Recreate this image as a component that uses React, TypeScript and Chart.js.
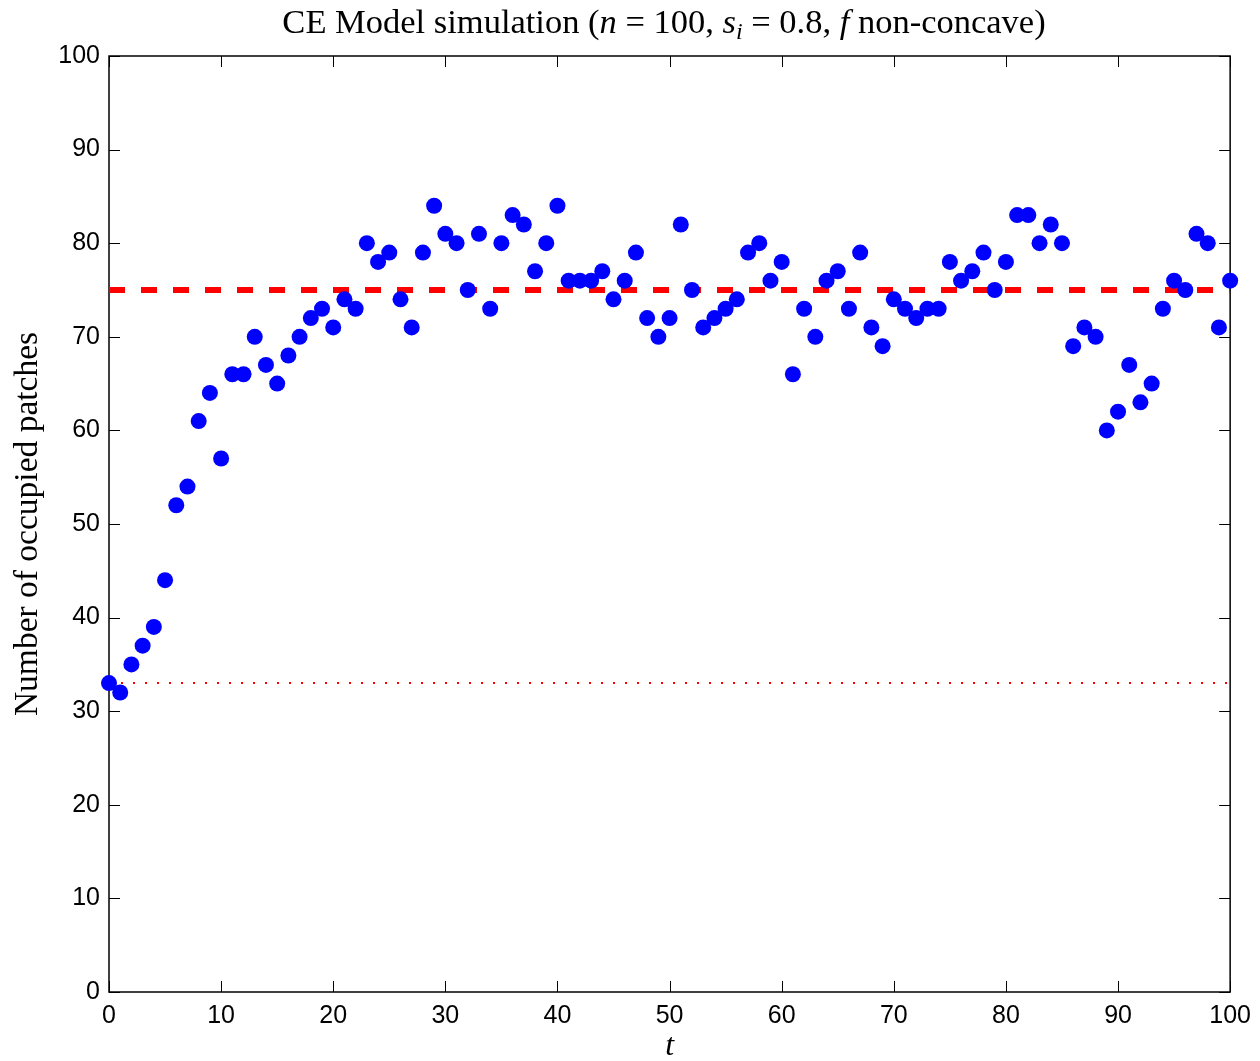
import React, { useEffect, useRef } from 'react';
import { Chart, registerables } from 'chart.js';

Chart.register(...registerables);

// Number of occupied patches at each time step t = 0 .. 100
const occupiedPatches: number[] = [
  33, 32, 35, 37, 39, 44, 52, 54, 61, 64,
  57, 66, 66, 70, 67, 65, 68, 70, 72, 73,
  71, 74, 73, 80, 78, 79, 74, 71, 79, 84,
  81, 80, 75, 81, 73, 80, 83, 82, 77, 80,
  84, 76, 76, 76, 77, 74, 76, 79, 72, 70,
  72, 82, 75, 71, 72, 73, 74, 79, 80, 76,
  78, 66, 73, 70, 76, 77, 73, 79, 71, 69,
  74, 73, 72, 73, 73, 78, 76, 77, 79, 75,
  78, 83, 83, 80, 82, 80, 69, 71, 70, 60,
  62, 67, 63, 65, 73, 76, 75, 81, 80, 71,
  76,
];
const timeSteps: number[] = occupiedPatches.map((_, i) => i);

const equilibriumLevel = 75;
const initialLevel = 33;
const lineSpan: number[] = [0, 100];

const xTicks: number[] = [0, 10, 20, 30, 40, 50, 60, 70, 80, 90, 100];
const yTicks: number[] = [0, 10, 20, 30, 40, 50, 60, 70, 80, 90, 100];

const titleSegments: { text: string; italic?: boolean; sub?: boolean }[] = [
  { text: 'CE Model simulation (' },
  { text: 'n', italic: true },
  { text: ' = 100, ' },
  { text: 's', italic: true },
  { text: 'i', italic: true, sub: true },
  { text: ' = 0.8, ' },
  { text: 'f', italic: true },
  { text: ' non-concave)' },
];

const SERIF = '"Liberation Serif", "DejaVu Serif", serif';
const SANS = '"Liberation Sans", Arial, sans-serif';

const boxPlugin = {
  id: 'matlabBox',
  beforeDatasetsDraw(chart: any) {
    const { ctx, chartArea } = chart;
    const { left, right, top, bottom } = chartArea;
    const xs = chart.scales.x;
    const ys = chart.scales.y;
    const tl = 11;
    ctx.save();
    ctx.strokeStyle = '#000';
    ctx.lineWidth = 1;
    ctx.beginPath();
    xTicks.forEach((v) => {
      const px = Math.round(xs.getPixelForValue(v)) + 0.5;
      ctx.moveTo(px, bottom);
      ctx.lineTo(px, bottom - tl);
      ctx.moveTo(px, top);
      ctx.lineTo(px, top + tl);
    });
    yTicks.forEach((v) => {
      const py = Math.round(ys.getPixelForValue(v)) + 0.5;
      ctx.moveTo(left, py);
      ctx.lineTo(left + tl, py);
      ctx.moveTo(right, py);
      ctx.lineTo(right - tl, py);
    });
    ctx.stroke();
    ctx.lineWidth = 1.5;
    ctx.strokeRect(left, top, right - left, bottom - top);
    ctx.restore();
  },
};

const titlePlugin = {
  id: 'mathTitle',
  afterDraw(chart: any) {
    const { ctx } = chart;
    const size = 34.5;
    const subSize = 24;
    const fontFor = (s: { italic?: boolean; sub?: boolean }) =>
      `${s.italic ? 'italic ' : ''}${s.sub ? subSize : size}px ${SERIF}`;
    ctx.save();
    ctx.fillStyle = '#000';
    ctx.textBaseline = 'alphabetic';
    ctx.textAlign = 'left';
    let total = 0;
    const widths = titleSegments.map((s) => {
      ctx.font = fontFor(s);
      const w = ctx.measureText(s.text).width;
      total += w;
      return w;
    });
    const centerX = 664;
    const baseline = 33;
    let x = centerX - total / 2;
    titleSegments.forEach((s, i) => {
      ctx.font = fontFor(s);
      ctx.fillText(s.text, x, s.sub ? baseline + 6 : baseline);
      x += widths[i];
    });
    ctx.restore();
  },
};

export default function App() {
  const canvasRef = useRef<HTMLCanvasElement | null>(null);

  useEffect(() => {
    if (!canvasRef.current) return;
    const chart = new Chart(canvasRef.current, {
      type: 'scatter',
      data: {
        datasets: [
          {
            label: 'Occupied patches',
            data: timeSteps.map((t, i) => ({ x: t, y: occupiedPatches[i] })),
            pointRadius: 8,
            pointHoverRadius: 8,
            pointBackgroundColor: '#0000ff',
            pointBorderWidth: 0,
            backgroundColor: '#0000ff',
            borderWidth: 0,
            showLine: false,
            clip: false as any,
            order: 0,
          },
          {
            label: 'Equilibrium',
            data: lineSpan.map((t) => ({ x: t, y: equilibriumLevel })),
            showLine: true,
            borderColor: '#ff0000',
            borderWidth: 6,
            borderDash: [16, 16],
            pointRadius: 0,
            fill: false,
            order: 1,
          },
          {
            label: 'Initial',
            data: lineSpan.map((t) => ({ x: t, y: initialLevel })),
            showLine: true,
            borderColor: '#ff0000',
            borderWidth: 2,
            borderDash: [2, 10],
            pointRadius: 0,
            fill: false,
            order: 2,
          },
        ],
      },
      options: {
        responsive: false,
        animation: false,
        devicePixelRatio: 1,
        layout: { padding: { top: 56, right: 29, left: 0, bottom: 0 } },
        plugins: {
          legend: { display: false },
          tooltip: { enabled: false },
          title: { display: false },
        },
        events: [],
        scales: {
          x: {
            type: 'linear',
            position: 'bottom',
            min: 0,
            max: 100,
            afterFit: (s: any) => {
              s.height = 69;
            },
            afterBuildTicks: (s: any) => {
              s.ticks = xTicks.map((v) => ({ value: v }));
            },
            ticks: {
              padding: 9,
              color: '#000',
              maxRotation: 0,
              autoSkip: false,
              font: { family: SANS, size: 25 },
            },
            grid: { display: false, drawTicks: false },
            border: { display: false },
            title: {
              display: true,
              text: 't',
              color: '#000',
              padding: 0,
              font: { family: SERIF, size: 32, style: 'italic', lineHeight: 0.9 },
            },
          },
          y: {
            type: 'linear',
            position: 'left',
            min: 0,
            max: 100,
            afterFit: (s: any) => {
              s.width = 109;
            },
            afterBuildTicks: (s: any) => {
              s.ticks = yTicks.map((v) => ({ value: v }));
            },
            ticks: {
              padding: 9,
              color: '#000',
              autoSkip: false,
              font: { family: SANS, size: 25 },
            },
            grid: { display: false, drawTicks: false },
            border: { display: false },
            title: {
              display: true,
              text: 'Number of occupied patches',
              color: '#000',
              padding: { top: 8, bottom: 0 },
              font: { family: SERIF, size: 33.5, lineHeight: 1.2 },
            },
          },
        },
      } as any,
      plugins: [boxPlugin, titlePlugin],
    });
    return () => chart.destroy();
  }, []);

  return (
    <div style={{ position: 'fixed', left: 0, top: 0, width: 1260, height: 1061, background: '#fff' }}>
      <canvas ref={canvasRef} width={1260} height={1061} style={{ display: 'block' }} />
    </div>
  );
}
